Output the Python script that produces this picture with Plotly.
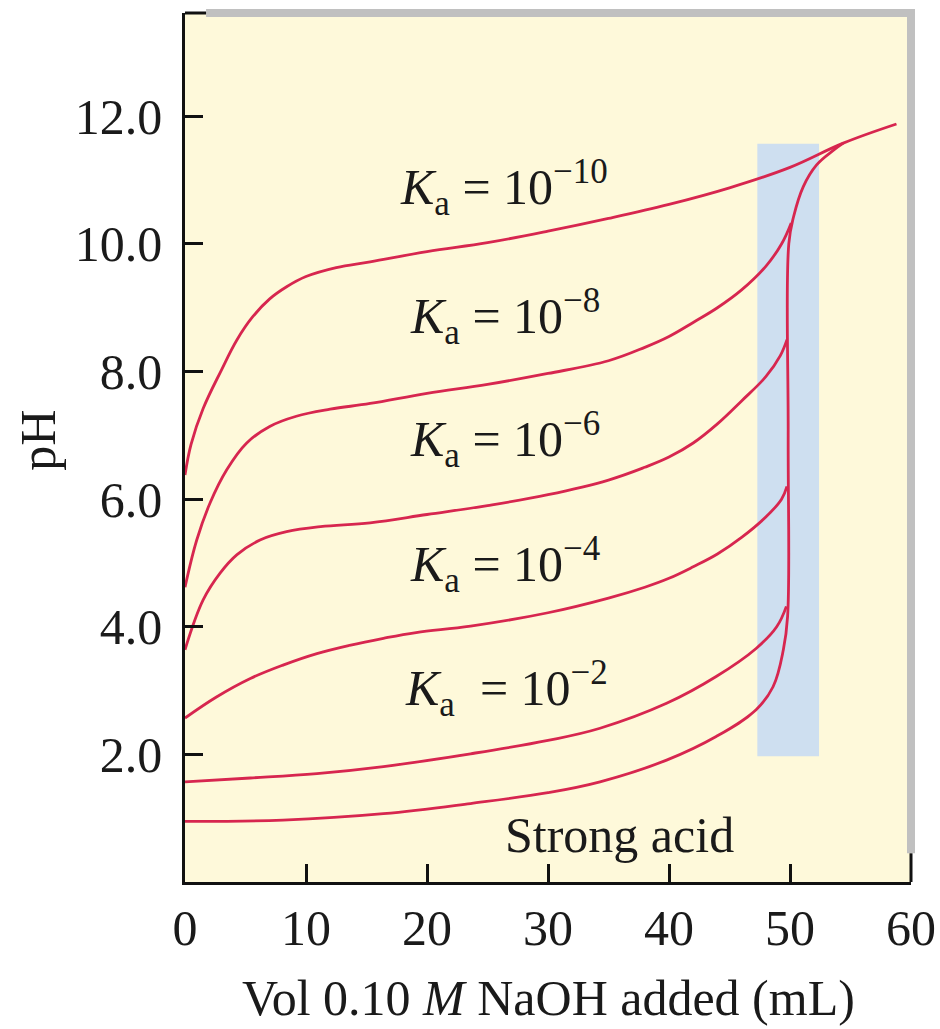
import plotly.graph_objects as go

# ---- data ----
vol_ka10 = [0, 0.5, 1.5, 3.0, 4.3, 5.6, 7.0, 8.4, 10.0, 12.5, 15.3, 20, 25, 30, 35, 40, 45, 50, 54.4, 58.8]
ph_ka10 = [6.38, 6.86, 7.42, 8.02, 8.50, 8.86, 9.14, 9.33, 9.49, 9.63, 9.72, 9.88, 10.02, 10.2, 10.4, 10.62, 10.88, 11.2, 11.58, 11.88]

vol_ka8 = [0, 0.97, 2.07, 3.45, 5.1, 7.0, 9.2, 12.0, 15.3, 20, 25, 30, 35, 38, 40, 42, 44, 46, 48, 49.3, 50.1]
ph_ka8 = [4.62, 5.36, 5.94, 6.46, 6.88, 7.14, 7.30, 7.41, 7.50, 7.66, 7.80, 7.97, 8.17, 8.38, 8.55, 8.77, 9.00, 9.28, 9.65, 10.0, 10.33]

vol_ka6 = [0, 1.5, 2.9, 4.3, 6.2, 8.4, 11.2, 15.3, 20, 25, 30, 35, 38, 40, 42, 44, 46, 48, 49.2, 49.75]
ph_ka6 = [3.64, 4.42, 4.84, 5.13, 5.36, 5.49, 5.57, 5.63, 5.76, 5.90, 6.07, 6.30, 6.50, 6.66, 6.88, 7.18, 7.54, 7.92, 8.25, 8.5]

vol_ka4 = [0, 2.6, 5.4, 8.1, 10.9, 13.6, 16.4, 19.1, 23.6, 30, 35, 38, 40, 42, 44, 46, 48, 49.3, 49.75]
ph_ka4 = [2.57, 2.90, 3.19, 3.40, 3.58, 3.71, 3.82, 3.91, 4.01, 4.22, 4.45, 4.62, 4.76, 4.94, 5.14, 5.40, 5.72, 6.0, 6.2]

vol_ka2 = [0, 5.4, 10.9, 16.4, 23.6, 30, 34.3, 39.8, 43.9, 47.2, 48.9, 49.7]
ph_ka2 = [1.57, 1.63, 1.70, 1.81, 2.01, 2.22, 2.41, 2.80, 3.22, 3.66, 4.00, 4.32]

vol_strong = [0, 8.1, 16.4, 23.6, 30, 34.3, 39.8, 43.9, 47.2, 48.6, 49.45, 49.8, 49.85, 49.9, 50.3, 51.1, 52.2, 53.6, 54.4]
ph_strong = [0.95, 0.97, 1.07, 1.23, 1.40, 1.57, 1.91, 2.28, 2.70, 3.06, 3.64, 4.16, 7.0, 10.0, 10.43, 10.90, 11.24, 11.47, 11.58]

curve_labels = ["<i>K</i><sub>a</sub> = 10<sup>−10</sup>",
                "<i>K</i><sub>a</sub> = 10<sup>−8</sup>",
                "<i>K</i><sub>a</sub> = 10<sup>−6</sup>",
                "<i>K</i><sub>a</sub> = 10<sup>−4</sup>",
                "<i>K</i><sub>a</sub>  = 10<sup>−2</sup>",
                "Strong acid"]
label_x = [17.6, 18.4, 18.4, 18.4, 18.0, 26.3]
label_y = [10.88, 8.86, 6.94, 4.98, 3.04, 0.74]

x_ticks = [0, 10, 20, 30, 40, 50, 60]
y_ticks = [2, 4, 6, 8, 10, 12]
y_tick_text = ["2.0", "4.0", "6.0", "8.0", "10.0", "12.0"]

x_title = "Vol 0.10 <i>M</i> NaOH added (mL)"
y_title = "pH"

equiv_band_x = [47.3, 52.4]
equiv_band_y = [1.97, 11.57]

# ---- style ----
LINE = "#d7264f"
FONT = "Liberation Serif"
FS = 50
TXT = "#1a1a1a"

fig = go.Figure()
for xs, ys in [(vol_ka10, ph_ka10), (vol_ka8, ph_ka8), (vol_ka6, ph_ka6),
               (vol_ka4, ph_ka4), (vol_ka2, ph_ka2), (vol_strong, ph_strong)]:
    fig.add_trace(go.Scatter(x=xs, y=ys, mode="lines",
                             line=dict(color=LINE, width=2.8, shape="spline", smoothing=1.1),
                             showlegend=False, hoverinfo="skip"))

for t, lx, ly in zip(curve_labels, label_x, label_y):
    fig.add_annotation(x=lx, y=ly, xref="x", yref="y", text=t, showarrow=False,
                       xanchor="left", yanchor="middle",
                       font=dict(family=FONT, size=FS, color=TXT))

# axis titles as annotations for exact placement
fig.add_annotation(x=0.5, y=-0.133, xref="paper", yref="paper", text=x_title,
                   showarrow=False, xanchor="center", yanchor="middle",
                   font=dict(family=FONT, size=FS, color=TXT))
fig.add_annotation(x=-0.2025, y=0.509, xref="paper", yref="paper", text=y_title,
                   showarrow=False, xanchor="center", yanchor="middle", textangle=-90,
                   font=dict(family=FONT, size=FS, color=TXT))

# equivalence band
fig.add_shape(type="rect", xref="x", yref="y",
              x0=equiv_band_x[0], x1=equiv_band_x[1], y0=equiv_band_y[0], y1=equiv_band_y[1],
              fillcolor="#cedff0", line=dict(width=0), layer="below")

# gray frame on top and right, black corner stubs
fig.add_shape(type="line", xref="paper", yref="paper", x0=0.029, x1=1.0055, y0=1, y1=1,
              line=dict(color="#c0c0c0", width=8), layer="above")
fig.add_shape(type="line", xref="paper", yref="paper", x0=1, x1=1, y0=0.033, y1=1.004,
              line=dict(color="#c0c0c0", width=8), layer="above")
fig.add_shape(type="line", xref="paper", yref="paper", x0=0, x1=0.029, y0=1, y1=1,
              line=dict(color="#111111", width=3), layer="above")
fig.add_shape(type="line", xref="paper", yref="paper", x0=1, x1=1, y0=0, y1=0.033,
              line=dict(color="#111111", width=3), layer="above")

fig.update_layout(
    width=940, height=1029,
    margin=dict(l=185, r=29, t=13, b=147, autoexpand=False),
    paper_bgcolor="white", plot_bgcolor="#fef9da",
    font=dict(family=FONT, size=FS, color=TXT),
)
fig.update_xaxes(range=[0, 60], tickvals=x_ticks, ticks="inside", ticklen=18, tickwidth=2.5,
                 tickcolor="#111111", showline=True, linecolor="#111111", linewidth=2.5,
                 showgrid=False, zeroline=False, ticklabelstandoff=0, automargin=False,
                 tickfont=dict(family=FONT, size=FS, color=TXT))
fig.update_yaxes(range=[0, 13.62], tickvals=y_ticks, ticktext=y_tick_text, ticks="inside",
                 ticklen=18, tickwidth=2.5, tickcolor="#111111", showline=True,
                 linecolor="#111111", linewidth=2.5, showgrid=False, zeroline=False,
                 ticklabelstandoff=10, automargin=False,
                 tickfont=dict(family=FONT, size=FS, color=TXT))

fig.write_html("out.html", config={"displayModeBar": False},
               post_script="document.body.style.margin='0px';document.body.style.overflow='hidden';")
